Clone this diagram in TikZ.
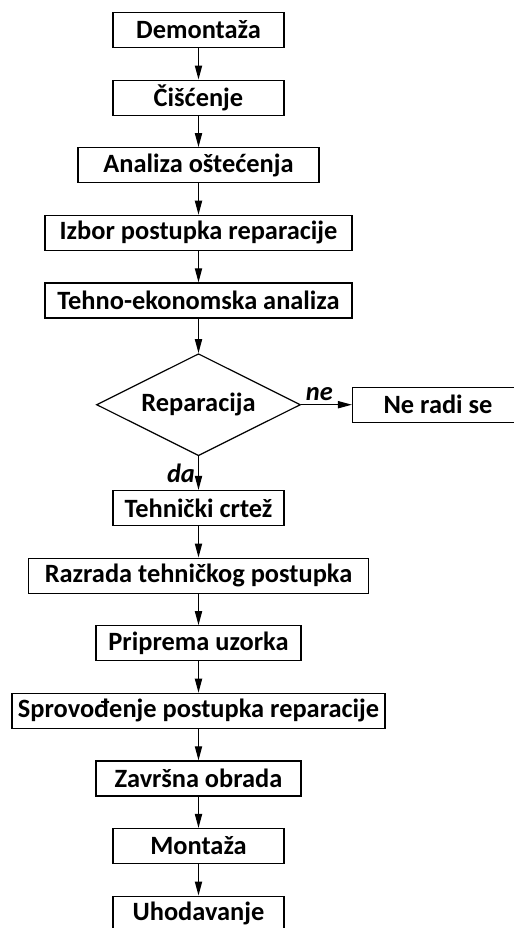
\documentclass[tikz,border=0pt]{standalone}
\usepackage{fontspec}
\setmainfont{Carlito}
\usetikzlibrary{arrows.meta, positioning, shapes.geometric}

\begin{document}
\begin{tikzpicture}[
    -{Triangle[length=7pt,width=3.6pt]},
    node distance=15.7pt,
    semithick,
    box/.style={rectangle, draw, minimum height=17.5pt, inner sep=1.5pt, font=\bfseries\fontsize{13.2}{15}\selectfont},
    decision/.style={diamond, draw, aspect=2, minimum width=102pt, minimum height=51pt, inner sep=0pt, font=\bfseries\fontsize{13.2}{15}\selectfont},
    answer/.style={font=\bfseries\itshape\fontsize{13.2}{15}\selectfont, inner sep=1.5pt}
]
\useasboundingbox (0,0) rectangle (257pt,-464pt);

% --- Nodes ---
\node[box, minimum width=85.5pt] (demontaza) at (99.25pt,-15pt) {Demontaža};
\node[box, minimum width=85.5pt, below=of demontaza] (ciscenje) {Čišćenje};
\node[box, minimum width=120.5pt, below=of ciscenje] (analiza) {Analiza oštećenja};
\node[box, minimum width=153.5pt, below=of analiza] (izbor) {Izbor postupka reparacije};
\node[box, minimum width=153.5pt, below=of izbor] (tehnoek) {Tehno-ekonomska analiza};
\node[decision, below=17.3pt of tehnoek] (reparacija) {Reparacija};
\node[box, minimum width=85.5pt, right=25.4pt of reparacija] (neradi) {Ne radi se};
\node[box, minimum width=85.5pt, below=16.8pt of reparacija] (crtez) {Tehnički crtež};
\node[box, minimum width=170pt, below=of crtez] (razrada) {Razrada tehničkog postupka};
\node[box, minimum width=102.5pt, below=of razrada] (priprema) {Priprema uzorka};
\node[box, minimum width=186.5pt, below=of priprema] (sprovodjenje) {Sprovođenje postupka reparacije};
\node[box, minimum width=102.5pt, below=of sprovodjenje] (zavrsna) {Završna obrada};
\node[box, minimum width=85.5pt, below=of zavrsna] (montaza) {Montaža};
\node[box, minimum width=85.5pt, below=of montaza] (uhodavanje) {Uhodavanje};

% --- Edges ---
\draw (demontaza) -- (ciscenje);
\draw (ciscenje) -- (analiza);
\draw (analiza) -- (izbor);
\draw (izbor) -- (tehnoek);
\draw (tehnoek) -- (reparacija);
\draw (reparacija) -- node[answer, above, pos=0.36] {ne} (neradi);
\draw (reparacija) -- node[answer, left] {da} (crtez);
\draw (crtez) -- (razrada);
\draw (razrada) -- (priprema);
\draw (priprema) -- (sprovodjenje);
\draw (sprovodjenje) -- (zavrsna);
\draw (zavrsna) -- (montaza);
\draw (montaza) -- (uhodavanje);

\end{tikzpicture}
\end{document}
